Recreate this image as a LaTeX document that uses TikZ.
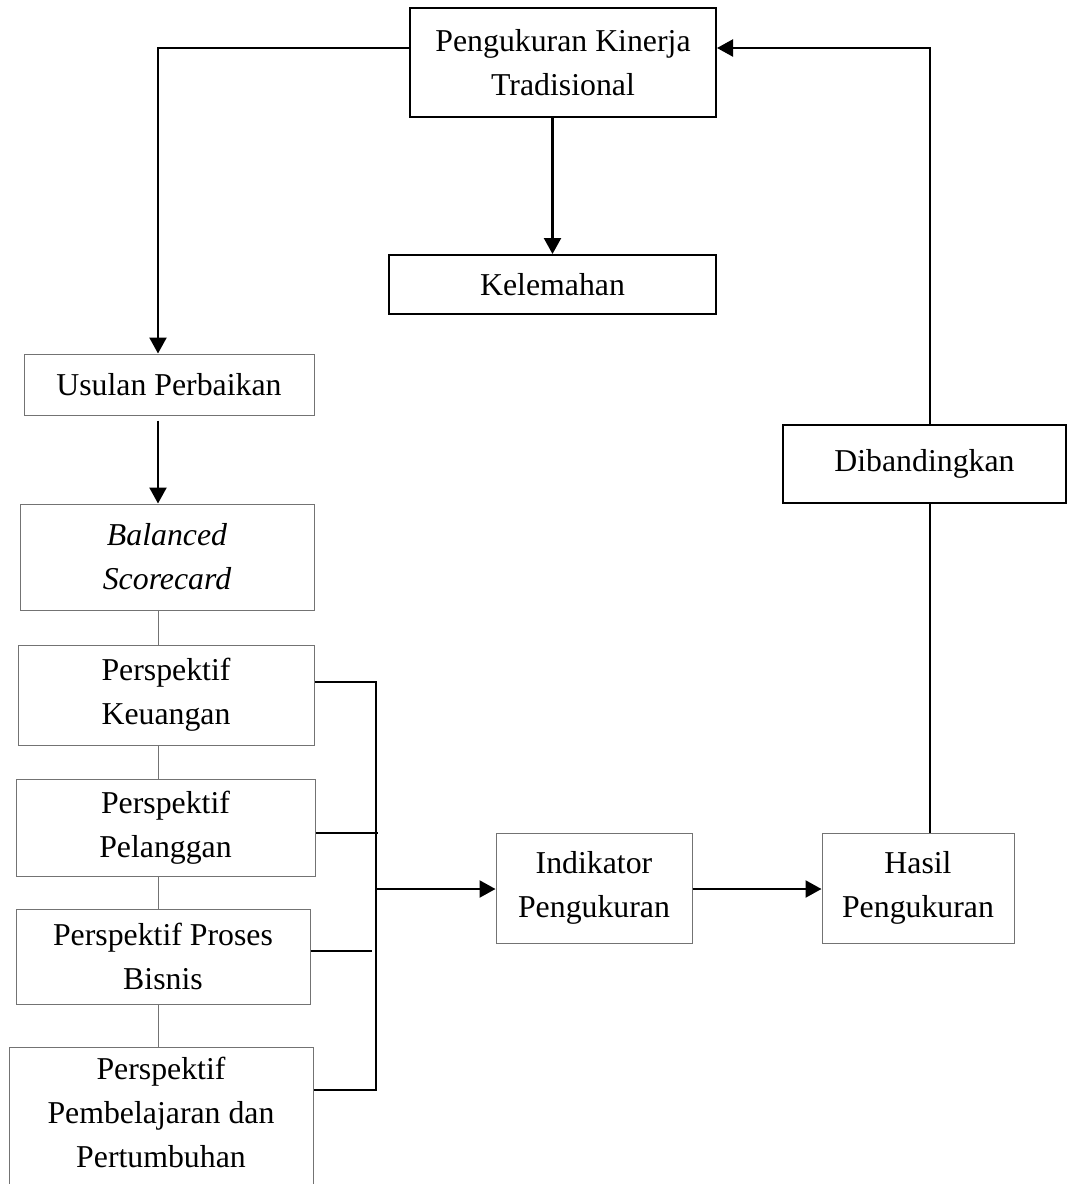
\documentclass[tikz,border=0pt]{standalone}
\usepackage{fontspec}
\setmainfont{Liberation Serif}
\usepackage{tikz}
\usetikzlibrary{arrows.meta}
\tikzset{
  box/.style = {rectangle, align=center, inner sep=0pt, text centered,
    font=\fontsize{15.9}{22}\selectfont},
  box_thin/.style = {box, draw=black!55, line width=0.5pt},% cadre fin gris
  box_thick/.style = {box, draw=black, line width=1pt},% cadre noir
  ln_thin/.style = {draw=black!55, line width=0.5pt},
  ln_stub/.style = {draw=black, line width=0.9pt},
  ln_arr/.style = {draw=black, line width=1.15pt, -{Triangle[length=8pt, width=8.5pt]}},
  ln_plain/.style = {draw=black, line width=1.15pt}
}
\begin{document}
\begin{tikzpicture}[x=0.5pt,y=-0.5pt]
\useasboundingbox (0,0) rectangle (1068,1184);
% boites
\node [box_thick, minimum width=153pt, minimum height=54.5pt] (pkt) at (563,62.5) {Pengukuran Kinerja\\Tradisional};
\node [box_thick, minimum width=163.5pt, minimum height=29.5pt] (kel) at (552.5,284.5) {Kelemahan};
\node [box_thin, minimum width=145pt, minimum height=30.5pt] (usul) at (169,384.5) {Usulan Perbaikan};
\node [box_thin, minimum width=147pt, minimum height=53pt] (bsc) at (167,557) {\itshape Balanced\\\itshape Scorecard};
\node [box_thin, minimum width=148pt, minimum height=50pt] (keu) at (166,695) {Perspektif\\Keuangan};
\node [box_thin, minimum width=149.5pt, minimum height=48.5pt] (pel) at (165.5,827.5) {Perspektif\\Pelanggan};
\node [box_thin, minimum width=147pt, minimum height=47.5pt] (pro) at (163,956.5) {Perspektif Proses\\Bisnis};
\node [box_thin, minimum width=152pt, minimum height=76pt, anchor=north] (pem) at (161,1047) {\\[-28pt]Perspektif\\Pembelajaran dan\\Pertumbuhan};
\node [box_thin, minimum width=98pt, minimum height=55pt] (ind) at (594,888) {Indikator\\Pengukuran};
\node [box_thin, minimum width=96pt, minimum height=55pt] (has) at (918,888) {Hasil\\Pengukuran};
\node [box_thick, minimum width=141.5pt, minimum height=39pt] (dib) at (924.5,464) {\raisebox{4pt}{Dibandingkan}};

% points de passage
\coordinate (cl) at (158,48);
\coordinate (cr) at (930,48);
\coordinate (bt) at (376,682);
\coordinate (bb) at (376,1090);
\coordinate (bm) at (376,889);
\coordinate (pelEnd) at (378,833);
\coordinate (proEnd) at (372,951);

% fleches
\draw [ln_arr] (pkt.west |- cl) -- (cl) -- (cl |- usul.north);
\draw [ln_arr] (kel.north |- pkt.south) -- (kel.north);
\draw [ln_arr] ([yshift=-2.5pt]cl |- usul.south) -- (cl |- bsc.north);
\draw [ln_thin] (cl |- bsc.south) -- (cl |- keu.north);
\draw [ln_thin] (cl |- keu.south) -- (cl |- pel.north);
\draw [ln_thin] (cl |- pel.south) -- (cl |- pro.north);
\draw [ln_thin] (cl |- pro.south) -- (cl |- pem.north);

% regroupement des perspectives
\draw [ln_plain] (keu.east |- bt) -- (bt) -- (bb) -- (pem.east |- bb);
\draw [ln_stub] (pel.east |- pelEnd) -- (pelEnd);
\draw [ln_stub] (pro.east |- proEnd) -- (proEnd);
\draw [ln_arr] (bm) -- (ind.west |- bm);
\draw [ln_arr] (ind.east |- bm) -- (has.west |- bm);

% retour vers pengukuran kinerja
\draw [ln_plain] (cr |- has.north) -- (cr |- dib.south);
\draw [ln_arr] (cr |- dib.north) -- (cr) -- (pkt.east |- cr);
\end{tikzpicture}
\end{document}
